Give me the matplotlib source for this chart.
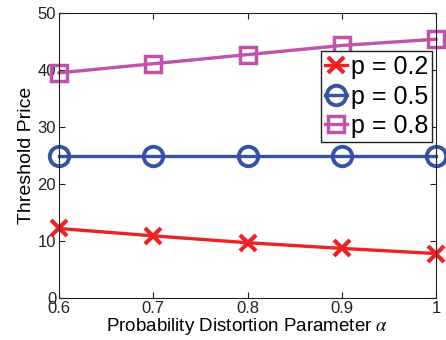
import matplotlib
matplotlib.use('Agg')
import matplotlib.pyplot as plt

plt.rcParams['font.family'] = ['Liberation Sans', 'DejaVu Sans']
plt.rcParams['mathtext.fontset'] = 'stix'

alpha = [0.6, 0.7, 0.8, 0.9, 1.0]
p02 = [12.2, 10.9, 9.7, 8.7, 7.8]
p05 = [25, 25, 25, 25, 25]
p08 = [39.5, 41.1, 42.7, 44.3, 45.4]
labels = ['p = 0.2', 'p = 0.5', 'p = 0.8']

fig = plt.figure(figsize=(4.46, 3.40), dpi=100)
ax = fig.add_axes([59/446, 1 - 298/340, 377/446, 285/340])

ax.plot(alpha, p02, '-x', color='#ee2224', lw=2.4, ms=11, mew=3, label=labels[0], clip_on=False)
ax.plot(alpha, p05, '-o', color='#3453a4', lw=2.4, ms=14, mew=2.8, mfc='none', label=labels[1], clip_on=False)
ax.plot(alpha, p08, '-s', color='#c051ad', lw=2.4, ms=12, mew=2.5, mfc='none', label=labels[2], clip_on=False)

ax.set_xlim(0.6, 1)
ax.set_ylim(0, 50)
ax.set_xticks(alpha)
ax.set_xticklabels(['0.6', '0.7', '0.8', '0.9', '1'])
ax.set_yticks([0, 10, 20, 30, 40, 50])
ax.tick_params(direction='in', top=True, right=True, labelsize=12, pad=2, colors='#222222', length=4)
for s in ax.spines.values():
    s.set_color('#222222')
ax.set_xlabel(r'Probability Distortion Parameter $\alpha$', fontsize=13.5, labelpad=0)
ax.set_ylabel('Threshold Price', fontsize=14, labelpad=2)

leg = ax.legend(loc='upper right', bbox_to_anchor=(0.99, 0.865), fontsize=18, handlelength=0.9,
                handletextpad=0.15, borderpad=0.15, labelspacing=0.22, fancybox=False,
                framealpha=1, edgecolor='#222222', borderaxespad=0)
leg.get_frame().set_linewidth(1)

fig.savefig('out.png', dpi=100)
